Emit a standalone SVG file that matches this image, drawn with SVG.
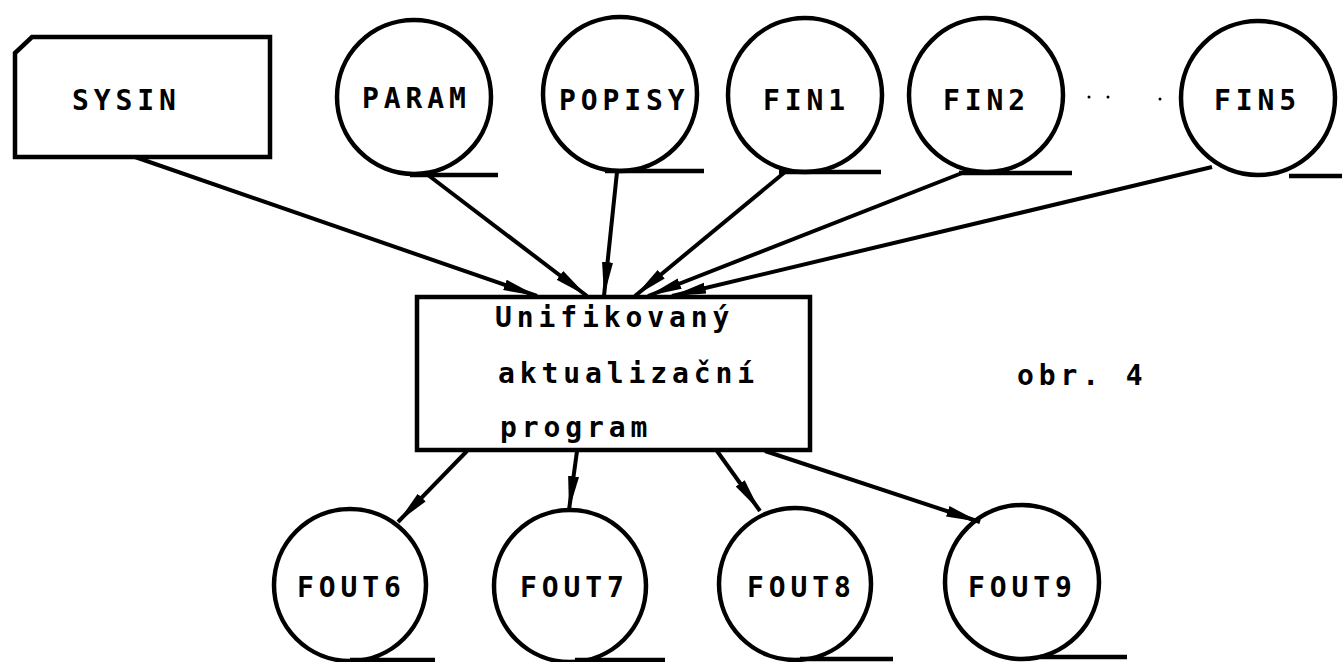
<svg xmlns="http://www.w3.org/2000/svg" width="1342" height="662" viewBox="0 0 1342 662">
<style>
  .shape { fill: none; stroke: #000; stroke-width: 4.5; }
  .ul { stroke: #000; stroke-width: 4.5; stroke-linecap: butt; }
  .lbl { font-family: "DejaVu Sans Mono", "Liberation Mono", monospace; font-size: 28px; font-weight: bold; letter-spacing: 4.9px; fill: #000; }
  .conn { stroke: #000; stroke-width: 4; fill: none; marker-end: url(#ah); }
</style>
<defs>
  <marker id="ah" markerUnits="userSpaceOnUse" markerWidth="36" markerHeight="14" refX="34" refY="7" orient="auto">
    <path d="M0,1.5 L34,7 L0,12.5 Z" fill="#000"/>
  </marker>
</defs>
<rect width="1342" height="662" fill="#fff"/>

<g id="SYSIN">
  <path class="shape" d="M32,37 L270,37 L270,157 L15,157 L15,53 Z"/>
  <text class="lbl" x="72" y="110">SYSIN</text>
</g>
<g id="PARAM">
  <circle class="shape" cx="414" cy="97" r="77"/>
  <line class="ul" x1="410" y1="175" x2="498" y2="175"/>
  <text class="lbl" x="362" y="108">PARAM</text>
</g>
<g id="POPISY">
  <circle class="shape" cx="620" cy="94" r="77"/>
  <line class="ul" x1="605" y1="171" x2="704" y2="171"/>
  <text class="lbl" x="559" y="110">POPISY</text>
</g>
<g id="FIN1">
  <circle class="shape" cx="805" cy="95" r="77"/>
  <line class="ul" x1="779" y1="172" x2="881" y2="172"/>
  <text class="lbl" x="763" y="110">FIN1</text>
</g>
<g id="FIN2">
  <circle class="shape" cx="986" cy="95" r="77"/>
  <line class="ul" x1="959" y1="173" x2="1072" y2="173"/>
  <text class="lbl" x="943" y="110">FIN2</text>
</g>
<g id="dots">
  <circle cx="1089" cy="97" r="1.5" fill="#000"/>
  <circle cx="1108" cy="97" r="1.5" fill="#000"/>
  <circle cx="1160" cy="99" r="1.5" fill="#000"/>
</g>
<g id="FIN5">
  <circle class="shape" cx="1258" cy="98" r="77"/>
  <line class="ul" x1="1289" y1="176" x2="1342" y2="176"/>
  <text class="lbl" x="1214" y="110">FIN5</text>
</g>

<g id="program">
  <rect class="shape" x="417" y="297" width="393" height="153"/>
  <text class="lbl" x="495" y="327">Unifikovaný</text>
  <text class="lbl" x="498" y="383">aktualizační</text>
  <text class="lbl" x="500" y="437">program</text>
</g>

<g id="obr">
  <text class="lbl" x="1017" y="385">obr. 4</text>
</g>

<g id="FOUT6">
  <circle class="shape" cx="350" cy="585" r="76"/>
  <line class="ul" x1="350" y1="660" x2="435" y2="660"/>
  <text class="lbl" x="297" y="597">FOUT6</text>
</g>
<g id="FOUT7">
  <circle class="shape" cx="570" cy="586" r="76"/>
  <line class="ul" x1="575" y1="660" x2="665" y2="660"/>
  <text class="lbl" x="520" y="597">FOUT7</text>
</g>
<g id="FOUT8">
  <circle class="shape" cx="795" cy="584" r="76"/>
  <line class="ul" x1="800" y1="659" x2="893" y2="659"/>
  <text class="lbl" x="747" y="597">FOUT8</text>
</g>
<g id="FOUT9">
  <circle class="shape" cx="1022" cy="582" r="77"/>
  <line class="ul" x1="1040" y1="657" x2="1127" y2="657"/>
  <text class="lbl" x="968" y="597">FOUT9</text>
</g>

<g id="connectors">
  <line class="conn" x1="135" y1="157" x2="537" y2="296"/>
  <line class="conn" x1="428" y1="175" x2="587" y2="296"/>
  <line class="conn" x1="617" y1="172" x2="604" y2="296"/>
  <line class="conn" x1="785" y1="172" x2="635" y2="296"/>
  <line class="conn" x1="962" y1="173" x2="648" y2="296"/>
  <line class="conn" x1="1212" y1="167" x2="672" y2="296"/>
  <line class="conn" x1="467" y1="451" x2="398" y2="522"/>
  <line class="conn" x1="577" y1="451" x2="569" y2="510"/>
  <line class="conn" x1="717" y1="451" x2="760" y2="511"/>
  <line class="conn" x1="765" y1="451" x2="980" y2="522"/>
</g>
</svg>
